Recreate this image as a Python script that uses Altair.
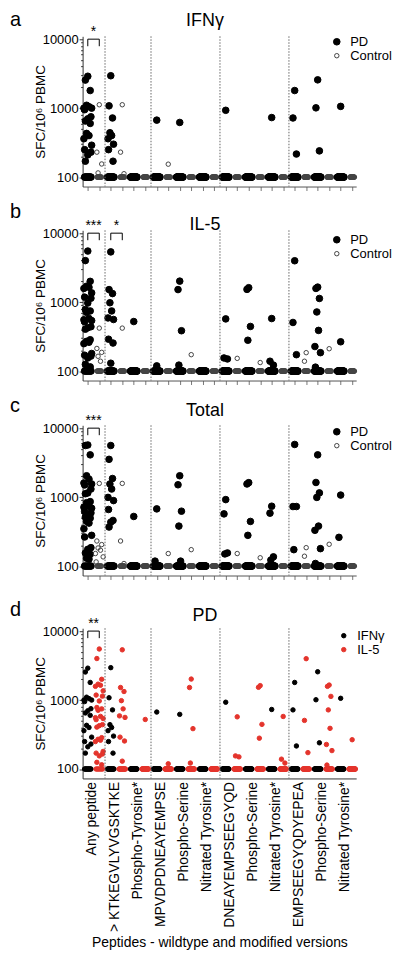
import json
import altair as alt
import pandas as pd

FONT = "Liberation Sans"
RED = "#e4342c"

peptides = ["Any peptide", "> KTKEGVLYVGSKTKE", "Phospho-Tyrosine*",
            "MPVDPDNEAYEMPSE", "Phospho-Serine", "Nitrated Tyrosine*",
            "DNEAYEMPSEEGYQD", "Phospho-Serine", "Nitrated Tyrosine*",
            "EMPSEEGYQDYEPEA", "Phospho-Serine", "Nitrated Tyrosine*"]
separators = [1.5, 5.5, 11.5, 17.5]

# ---- panel a: IFN-gamma (values above the 100 floor) ----
ifn_pd = [
    [2900, 2550, 1800, 1100, 1050, 1000, 1000, 950, 750, 700, 650, 600, 430, 400, 360, 290, 250, 230, 210, 170],
    [2950, 1080, 720, 440, 400, 360, 300, 250, 170],
    [], [670], [620], [], [930], [], [730],
    [1800, 720, 216], [2570, 1010, 240], [1060]]
ifn_ctrl = [[1120, 230, 155, 115], [1120, 230, 112], [], [154], [], [], [], [], [], [], [], []]
ifn_pd_floor = [10, 14, 22, 21, 21, 22, 21, 22, 21, 19, 19, 21]
ifn_ctrl_floor = [12, 13, 16, 15, 16, 16, 16, 16, 16, 16, 16, 16]

# ---- panel b: IL-5 ----
il5_pd = [
    [5500, 4000, 2000, 1700, 1640, 1580, 1360, 1180, 1140, 970, 780, 745, 710, 580, 555, 540, 520,
     440, 425, 405, 285, 270, 262, 250, 180, 170, 165, 155, 125, 115],
    [5350, 1520, 1330, 980, 745, 590, 560, 290, 255, 130],
    [523], [119], [2015, 1520, 385, 122], [],
    [571, 155, 150], [1620, 1530, 444, 280], [578, 139, 122],
    [3980, 507, 173], [1650, 1580, 1130, 720, 389, 227, 185, 114], [266]]
il5_ctrl = [[420, 213, 187, 164, 139], [420], [], [], [173], [], [153], [133], [], [185, 139], [211], []]
il5_pd_floor = [6, 13, 22, 22, 19, 23, 20, 19, 20, 20, 15, 22]
il5_ctrl_floor = [11, 15, 16, 16, 15, 16, 15, 15, 16, 14, 15, 16]

# ---- panel c: Total ----
tot_pd = [
    [5700, 5600, 4100, 2040, 1820, 1600, 1550, 1500, 1310, 1150, 1120, 860, 830, 740, 713, 690,
     620, 590, 530, 513, 495, 445, 420, 347, 279, 264, 185, 175, 155, 148, 130, 126],
    [5600, 3530, 1860, 1550, 1310, 990, 890, 661, 459, 433, 368],
    [524], [675, 118], [2040, 1510, 625, 380, 118], [],
    [920, 571, 155, 150], [1620, 1550, 444, 279], [738, 585, 136, 122],
    [5800, 730, 730, 173], [4100, 1630, 1150, 990, 380, 330, 179, 109], [1070, 261]]
tot_ctrl = [[1580, 231, 205, 183, 170, 152, 136, 115], [1580, 231, 109], [], [152], [173], [],
            [152], [132], [], [185, 139], [207], []]
tot_pd_floor = [6, 12, 22, 20, 18, 23, 19, 19, 19, 19, 15, 21]
tot_ctrl_floor = [10, 13, 16, 15, 15, 16, 15, 15, 16, 14, 15, 16]

PATTERN = [0, -0.5, 0.5, -0.25, 0.25, -0.8, 0.8, -0.65, 0.65]


def build(pd_vals, ctrl_vals, pd_floor, ctrl_floor, names):
    rows = []
    for k in range(12):
        for g, col, vals, fl in ((names[0], 2 * k, pd_vals[k], pd_floor[k]),
                                 (names[1], 2 * k + 1, ctrl_vals[k], ctrl_floor[k])):
            spread = 0.42 if k == 0 else 0.3
            for i, v in enumerate(vals):
                rows.append({"x": col + spread * PATTERN[i % len(PATTERN)], "v": v, "g": g})
            w = 0.28 if g in ("PD", "IFNγ", "IL-5") else 0.2
            for i in range(fl):
                off = -w + 2 * w * i / (fl - 1) if fl > 1 else 0
                rows.append({"x": col + off, "v": 100, "g": g})
    return pd.DataFrame(rows)


W, H = 275, 151
XDOM = [-0.45, 23.35]
YDOM = [73, 11000]
yvals = [100, 200, 300, 400, 500, 600, 700, 800, 900,
         1000, 2000, 3000, 4000, 5000, 6000, 7000, 8000, 9000, 10000]
MAJOR = "indexof([100,1000,10000], datum.value) >= 0"

yaxis = alt.Axis(values=yvals, labelExpr=f"{MAJOR} ? format(datum.value, 'd') : ''",
                 tickSize={"condition": {"test": MAJOR, "value": 3.5}, "value": 2},
                 title="SFC/10⁶ PBMC", titleFontSize=13.5, titleFontWeight="normal",
                 titlePadding=-5, labelFontSize=13, labelPadding=1, grid=False,
                 domainColor="#333", tickColor="#333")


def panel(df, names, fills, strokes, sizes, letter, title, brackets, letter_y, title_y,
          leg_x, leg_y, bottom_labels, symsize=None, row_pad=0):
    if bottom_labels:
        xaxis = alt.Axis(values=[2 * k + 0.5 for k in range(12)],
                         labelExpr=json.dumps(peptides, ensure_ascii=False) + "[floor(datum.value / 2)]",
                         labelAngle=270, labelFontSize=14, labelPadding=3, labelOffset=-2,
                         labelOverlap=False, labelBound=False, labelSeparation=0,
                         ticks=False, grid=False, domainColor="#333",
                         title="Peptides - wildtype and modified versions",
                         titleFontSize=14, titleFontWeight="normal", titlePadding=4)
    else:
        xaxis = alt.Axis(values=list(range(24)), labels=False, tickSize=4, grid=False,
                         title=None, domainColor="#555", tickColor="#777")
    xscale = alt.Scale(domain=XDOM, nice=False, zero=False)
    x = alt.X("x:Q", scale=xscale, axis=xaxis)
    y = alt.Y("v:Q", scale=alt.Scale(type="log", domain=YDOM, nice=False), axis=yaxis)

    legend_kw = dict(title=None, orient="none", legendX=leg_x, legendY=leg_y,
                     labelFont=FONT, labelFontSize=13, labelOffset=7, padding=0,
                     rowPadding=row_pad, symbolType="circle", symbolStrokeWidth=1)
    if symsize:
        legend_kw["symbolSize"] = symsize
    lg = alt.Legend(**legend_kw)
    enc = dict(
        x=x, y=y,
        fill=alt.Fill("g:N", scale=alt.Scale(domain=names, range=fills), legend=lg),
        stroke=alt.Stroke("g:N", scale=alt.Scale(domain=names, range=strokes), legend=lg),
    )
    if sizes:
        enc["size"] = alt.Size("g:N", scale=alt.Scale(domain=names, range=sizes), legend=lg)
        pts = alt.Chart(df).mark_point(shape="circle", opacity=1, strokeWidth=1).encode(**enc)
    else:
        pts = alt.Chart(df).mark_point(shape="circle", opacity=1, strokeWidth=1, size=symsize).encode(**enc)

    seps = alt.Chart(pd.DataFrame({"x": separators})).mark_rule(
        color="#666", strokeDash=[1.5, 1.5], strokeWidth=1).encode(x=x)

    bdf = pd.DataFrame({"x": [b[0] for b in brackets], "x2": [b[1] for b in brackets],
                        "v": [10000] * len(brackets), "v2": [7900] * len(brackets)})
    legs = pd.DataFrame({"x": [b[0] for b in brackets] + [b[1] for b in brackets],
                         "v": [10000] * (2 * len(brackets)), "v2": [7900] * (2 * len(brackets))})
    sdf = pd.DataFrame({"x": [(b[0] + b[1]) / 2 for b in brackets],
                        "v": [10000] * len(brackets), "t": [b[2] for b in brackets]})
    hbar = alt.Chart(bdf).mark_rule(color="black", strokeWidth=1).encode(x=x, x2="x2", y=y)
    vbar = alt.Chart(legs).mark_rule(color="black", strokeWidth=1).encode(x=x, y=y, y2="v2")
    stars = alt.Chart(sdf).mark_text(fontSize=14, font=FONT, baseline="alphabetic", dy=-3).encode(
        x=x, y=y, text="t:N")

    let = alt.Chart(pd.DataFrame({"t": [letter]})).mark_text(
        align="left", baseline="alphabetic", fontSize=20, font=FONT).encode(
        text="t:N", x=alt.value(-73), y=alt.value(letter_y))
    tit = alt.Chart(pd.DataFrame({"t": [title]})).mark_text(
        align="center", baseline="alphabetic", fontSize=18, font=FONT).encode(
        text="t:N", x=alt.value(123), y=alt.value(title_y))

    return alt.layer(pts, seps, hbar, vbar, stars, let, tit).properties(width=W, height=H)


grp = ["PD", "Control"]
pa = panel(build(ifn_pd, ifn_ctrl, ifn_pd_floor, ifn_ctrl_floor, grp), grp,
           ["black", "transparent"], ["black", "#444"], [44, 20],
           "a", "IFNγ", [(0, 1, "*")], -10, -10, 249, -1, False)
pb = panel(build(il5_pd, il5_ctrl, il5_pd_floor, il5_ctrl_floor, grp), grp,
           ["black", "transparent"], ["black", "#444"], [44, 20],
           "b", "IL-5", [(0, 1, "***"), (2, 3, "*")], -12, 0, 249, 3, False)
pc = panel(build(tot_pd, tot_ctrl, tot_pd_floor, tot_ctrl_floor, grp), grp,
           ["black", "transparent"], ["black", "#444"], [44, 20],
           "c", "Total", [(0, 1, "***")], -13, -9, 249, 0, False)
cyt = ["IFNγ", "IL-5"]
pdd = panel(build(ifn_pd, il5_pd, ifn_pd_floor, il5_pd_floor, cyt), cyt,
            ["black", RED], ["black", RED], None,
            "d", "PD", [(0, 1, "**")], -12, -7, 256, 1, True, symsize=20, row_pad=-2)

IND = dict(fill="independent", stroke="independent", size="independent")
top3 = alt.vconcat(pa, pb, pc, spacing=11).resolve_scale(
    x="independent", y="independent", **IND).resolve_legend(**IND)
chart = alt.vconcat(top3, pdd, spacing=20).resolve_scale(
    x="independent", y="independent", **IND).resolve_legend(**IND).properties(
    padding={"left": 2, "top": 0, "right": 0, "bottom": 0}
).configure_view(stroke=None).configure_axis(
    labelFont=FONT, titleFont=FONT, labelColor="black", titleColor="black"
).configure_text(font=FONT)

chart.save("out.html", embed_options={"renderer": "svg", "actions": False})
